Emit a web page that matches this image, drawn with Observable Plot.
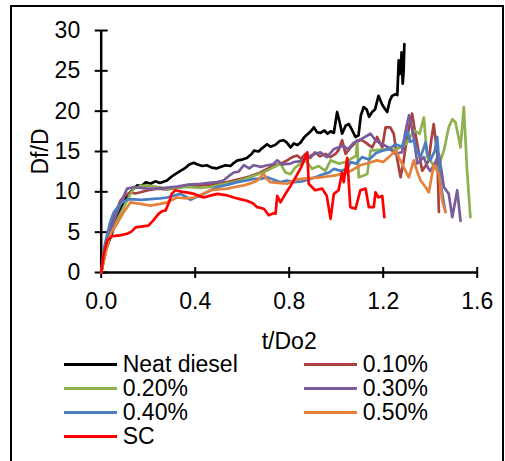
<!DOCTYPE html>
<html>
<head>
<meta charset="utf-8">
<script src="https://cdn.jsdelivr.net/npm/d3@7"></script>
<script src="https://cdn.jsdelivr.net/npm/@observablehq/plot@0.6"></script>
<style>
  html, body { margin: 0; padding: 0; background: #fff; }
  body { width: 505px; height: 461px; overflow: hidden; position: relative; font-family: "Liberation Sans", Arial, sans-serif; }
  #frame { position: absolute; left: 10px; top: 5px; width: 494px; height: 480px; border: 2px solid #000; box-sizing: border-box; }
  #chart { position: absolute; left: 0; top: 0; }
  .item { position: absolute; font-size: 23px; line-height: 24px; color: #000; white-space: nowrap; }
  .sw { position: absolute; width: 53px; height: 3px; }
</style>
</head>
<body>
<div id="frame"></div>
<div id="chart"></div>
<div id="legend"></div>
<script>
const series = ["Neat diesel", "0.10%", "0.20%", "0.30%", "0.40%", "0.50%", "SC"];
const colors = ["#000000", "#A9413F", "#8DB14D", "#7A5C9C", "#4B7DC2", "#E5813A", "#FF0000"];
const xTicks = [0, 0.4, 0.8, 1.2, 1.6];
const yTicks = [0, 5, 10, 15, 20, 25, 30];

const tNeat = [0, 0.02, 0.05, 0.082, 0.11, 0.135, 0.153, 0.17, 0.19, 0.21, 0.23, 0.25, 0.28, 0.30, 0.32, 0.337, 0.355, 0.375, 0.394, 0.41, 0.43, 0.45, 0.47, 0.49, 0.51, 0.53, 0.55, 0.565, 0.58, 0.60, 0.62, 0.64, 0.65, 0.67, 0.68, 0.706, 0.72, 0.74, 0.76, 0.777, 0.79, 0.806, 0.82, 0.835, 0.848, 0.865, 0.88, 0.895, 0.905, 0.918, 0.933, 0.95, 0.963, 0.976, 0.99, 1.004, 1.015, 1.025, 1.04, 1.054, 1.065, 1.082, 1.095, 1.105, 1.117, 1.13, 1.14, 1.153, 1.165, 1.18, 1.196, 1.207, 1.217, 1.228, 1.238, 1.252, 1.26, 1.266, 1.27, 1.274, 1.278, 1.283, 1.287, 1.29];
const dNeat = [0, 2.8, 5.2, 7.9, 9.4, 10.3, 10.8, 10.7, 11.2, 11.0, 11.3, 11.1, 11.4, 11.9, 12.3, 12.6, 12.9, 13.4, 13.6, 13.4, 13.2, 13.3, 13.0, 12.9, 13.1, 13.3, 13.2, 13.6, 13.9, 14.0, 14.2, 14.7, 15.1, 15.0, 15.3, 15.9, 15.6, 15.8, 16.3, 16.4, 16.1, 15.5, 16.0, 15.8, 16.1, 16.8, 17.2, 17.6, 18.0, 17.4, 17.3, 17.6, 17.2, 17.5, 17.3, 19.9, 18.6, 17.2, 18.2, 18.4, 17.8, 16.8, 17.0, 19.5, 20.5, 20.2, 19.3, 19.9, 20.2, 21.9, 20.8, 20.3, 19.9, 21.3, 21.9, 22.1, 22.0, 26.3, 24.6, 24.8, 27.3, 23.4, 25.0, 28.3];

const t010 = [0, 0.02, 0.054, 0.082, 0.1, 0.125, 0.145, 0.167, 0.2, 0.238, 0.28, 0.32, 0.351, 0.39, 0.423, 0.46, 0.507, 0.55, 0.593, 0.63, 0.678, 0.71, 0.734, 0.76, 0.791, 0.813, 0.834, 0.85, 0.869, 0.89, 0.91, 0.93, 0.954, 0.975, 0.997, 1.011, 1.025, 1.04, 1.061, 1.085, 1.103, 1.11, 1.13, 1.153, 1.174, 1.196, 1.21, 1.23, 1.245, 1.26, 1.274, 1.285, 1.295, 1.31, 1.323, 1.335, 1.345, 1.366, 1.38, 1.394, 1.405, 1.415, 1.43, 1.437];
const d010 = [0, 3.5, 6.85, 8.9, 9.5, 9.95, 9.8, 9.95, 10.2, 10.4, 10.3, 10.5, 10.65, 10.7, 10.8, 10.9, 11.0, 11.3, 11.6, 11.9, 12.4, 12.9, 13.3, 13.4, 13.9, 14.3, 14.5, 14.1, 14.7, 14.2, 14.9, 14.4, 14.7, 14.3, 14.7, 15.2, 16.4, 14.7, 15.5, 16.2, 16.4, 16.4, 16.0, 15.5, 16.8, 15.5, 18.0, 18.0, 17.2, 14.0, 11.8, 13.5, 15.5, 18.0, 19.7, 17.5, 15.9, 12.6, 13.2, 13.9, 16.5, 18.4, 14.7, 7.5];

const t020 = [0, 0.02, 0.04, 0.07, 0.096, 0.12, 0.139, 0.165, 0.196, 0.24, 0.28, 0.32, 0.366, 0.42, 0.465, 0.51, 0.564, 0.61, 0.649, 0.69, 0.72, 0.745, 0.763, 0.784, 0.806, 0.825, 0.848, 0.869, 0.898, 0.925, 0.954, 0.976, 1.011, 1.04, 1.07, 1.085, 1.089, 1.096, 1.115, 1.132, 1.146, 1.18, 1.217, 1.245, 1.274, 1.3, 1.33, 1.355, 1.373, 1.387, 1.41, 1.43, 1.458, 1.479, 1.494, 1.508, 1.529, 1.543, 1.557, 1.571];
const d020 = [0, 2.8, 4.8, 6.6, 8.1, 9.5, 10.4, 10.7, 10.8, 10.6, 10.4, 10.5, 10.6, 10.5, 10.6, 10.9, 11.2, 11.6, 12.0, 12.4, 12.85, 13.2, 13.5, 12.4, 12.2, 13.0, 13.5, 13.9, 12.85, 13.2, 12.6, 13.9, 13.5, 13.7, 14.2, 14.5, 16.4, 11.8, 12.0, 12.2, 15.1, 15.2, 15.3, 15.2, 15.5, 16.0, 17.6, 17.2, 19.2, 14.3, 13.5, 12.6, 15.1, 18.0, 19.0, 18.6, 15.5, 20.5, 12.6, 6.85];

const t030 = [0, 0.02, 0.054, 0.082, 0.11, 0.14, 0.167, 0.2, 0.224, 0.27, 0.323, 0.37, 0.423, 0.46, 0.494, 0.52, 0.545, 0.564, 0.585, 0.607, 0.63, 0.649, 0.68, 0.706, 0.73, 0.749, 0.77, 0.806, 0.82, 0.85, 0.877, 0.9, 0.933, 0.96, 0.99, 1.03, 1.05, 1.075, 1.11, 1.146, 1.17, 1.196, 1.224, 1.252, 1.28, 1.295, 1.31, 1.33, 1.345, 1.373, 1.39, 1.40, 1.42, 1.437, 1.458, 1.479, 1.494, 1.515, 1.529];
const d030 = [0, 3.2, 6.4, 8.5, 10.4, 10.6, 10.5, 10.4, 10.4, 10.5, 10.65, 10.9, 11.0, 11.1, 11.2, 11.4, 12.0, 12.4, 12.5, 13.3, 12.9, 13.3, 13.1, 13.3, 13.4, 13.9, 13.4, 13.5, 13.7, 13.8, 14.3, 14.6, 14.9, 14.3, 15.3, 15.7, 15.3, 16.1, 16.6, 17.2, 16.3, 15.9, 15.5, 14.7, 14.9, 17.5, 19.5, 16.8, 13.5, 14.3, 13.0, 12.6, 13.5, 14.7, 10.6, 9.75, 6.85, 10.2, 6.4];

const t040 = [0, 0.012, 0.026, 0.04, 0.054, 0.082, 0.1, 0.125, 0.17, 0.21, 0.25, 0.28, 0.337, 0.36, 0.38, 0.40, 0.423, 0.46, 0.494, 0.54, 0.579, 0.62, 0.649, 0.68, 0.706, 0.735, 0.763, 0.79, 0.82, 0.855, 0.89, 0.92, 0.947, 0.97, 0.99, 1.02, 1.047, 1.061, 1.085, 1.11, 1.14, 1.17, 1.196, 1.225, 1.252, 1.28, 1.302, 1.315, 1.33, 1.345, 1.359, 1.38, 1.39, 1.40, 1.42, 1.43, 1.444, 1.465];
const d040 = [0, 3.0, 4.8, 6.4, 7.5, 8.5, 8.9, 9.1, 9.0, 9.1, 9.2, 9.3, 9.75, 9.4, 9.0, 9.3, 9.55, 10.1, 10.6, 10.9, 11.2, 11.4, 11.6, 11.6, 11.8, 11.5, 11.2, 11.4, 11.2, 11.3, 11.6, 11.9, 12.2, 12.4, 12.85, 12.6, 12.85, 13.7, 13.5, 14.3, 14.0, 14.8, 15.1, 15.3, 15.9, 15.6, 17.6, 16.2, 16.4, 15.0, 14.3, 16.1, 14.5, 13.9, 15.1, 16.8, 11.0, 7.5];

const t050 = [0, 0.02, 0.04, 0.07, 0.096, 0.125, 0.145, 0.167, 0.21, 0.25, 0.28, 0.323, 0.36, 0.394, 0.43, 0.465, 0.5, 0.536, 0.57, 0.607, 0.64, 0.664, 0.692, 0.705, 0.72, 0.75, 0.791, 0.82, 0.848, 0.89, 0.933, 0.96, 0.99, 1.02, 1.047, 1.075, 1.103, 1.14, 1.174, 1.2, 1.224, 1.252, 1.28, 1.309, 1.33, 1.345, 1.359, 1.38, 1.394, 1.415, 1.437, 1.451, 1.465];
const d050 = [0, 2.6, 4.8, 6.2, 7.5, 8.7, 8.6, 8.5, 8.3, 8.5, 8.7, 9.3, 9.2, 9.3, 9.7, 10.2, 10.3, 10.4, 10.6, 10.8, 11.1, 11.4, 12.2, 11.6, 11.2, 11.1, 11.0, 11.4, 11.6, 11.7, 11.8, 11.9, 12.0, 12.2, 12.4, 12.8, 13.3, 13.6, 13.9, 13.7, 14.3, 15.1, 13.5, 11.8, 13.9, 12.5, 11.4, 10.6, 9.95, 13.3, 12.2, 8.9, 7.5];

const tSC = [0, 0.01, 0.026, 0.047, 0.08, 0.11, 0.13, 0.146, 0.2, 0.22, 0.245, 0.26, 0.274, 0.29, 0.30, 0.316, 0.345, 0.37, 0.394, 0.415, 0.437, 0.46, 0.494, 0.53, 0.564, 0.59, 0.62, 0.645, 0.664, 0.692, 0.703, 0.713, 0.734, 0.742, 0.749, 0.763, 0.784, 0.805, 0.827, 0.85, 0.869, 0.877, 0.883, 0.91, 0.94, 0.96, 0.976, 0.99, 1.01, 1.025, 1.032, 1.047, 1.06, 1.082, 1.103, 1.125, 1.139, 1.16, 1.167, 1.18, 1.196, 1.205];
const dSC = [0, 2.2, 4.0, 4.5, 4.6, 4.8, 5.1, 5.6, 5.8, 6.4, 7.3, 7.6, 7.7, 8.8, 9.75, 10.2, 10.0, 9.9, 9.75, 9.5, 9.3, 9.5, 9.75, 9.6, 9.3, 9.1, 8.9, 8.6, 8.1, 7.9, 7.5, 7.1, 7.35, 7.3, 9.5, 8.7, 9.75, 10.7, 11.8, 13.0, 14.3, 14.9, 11.0, 10.2, 10.4, 9.5, 6.65, 9.75, 10.2, 12.4, 11.2, 14.2, 8.1, 7.9, 10.2, 10.4, 8.1, 8.1, 9.95, 9.3, 9.5, 6.85];

const tArrays = [tNeat, t010, t020, t030, t040, t050, tSC];
const dArrays = [dNeat, d010, d020, d030, d040, d050, dSC];

const table = [];
series.forEach((s, i) => {
  const ts = tArrays[i], ds = dArrays[i];
  if (ts.length !== ds.length) console.error("length mismatch", s, ts.length, ds.length);
  ts.forEach((t, j) => table.push({series: s, t, D: ds[j]}));
});

const chart = Plot.plot({
  width: 505,
  height: 345,
  marginLeft: 100.7,
  marginRight: 28.3,
  marginTop: 30,
  marginBottom: 73,
  style: {fontFamily: "'Liberation Sans', Arial, sans-serif", fontSize: "23px", color: "#000", background: "transparent", overflow: "visible"},
  x: {domain: [0, 1.6]},
  y: {domain: [0, 30]},
  color: {domain: series, range: colors},
  marks: [
    Plot.axisY(yTicks, {tickSize: 0, tickPadding: 21, fontSize: 23, label: "Df/D", labelAnchor: "center", labelOffset: 70, labelArrow: "none"}),
    Plot.axisY(yTicks, {tickSize: 13, dx: 7, fill: "none", strokeWidth: 2}),
    Plot.axisX(xTicks, {tickSize: 0, tickPadding: 20, fontSize: 23, tickFormat: d3.format(".1f"), label: "t/Do2", labelAnchor: "center", labelOffset: 76, labelArrow: "none"}),
    Plot.axisX(xTicks, {tickSize: 11, dy: -5, fill: "none", strokeWidth: 2}),
    Plot.ruleX([0], {strokeWidth: 2.5}),
    Plot.ruleY([0], {strokeWidth: 2.5}),
    Plot.line(table, {x: "t", y: "D", z: "series", stroke: "series", strokeWidth: 2.7, strokeLinejoin: "round"})
  ]
});
document.getElementById("chart").appendChild(chart);

// legend (HTML, below the SVG)
const legend = document.getElementById("legend");
const colX = [64.3, 304.3];
series.forEach((s, i) => {
  const row = Math.floor(i / 2), col = i % 2;
  const top = 352 + row * 23.9;
  const sw = document.createElement("div");
  sw.className = "sw";
  sw.style.left = colX[col] + "px";
  sw.style.top = (top + 10.8) + "px";
  sw.style.background = colors[i];
  legend.appendChild(sw);
  const tx = document.createElement("div");
  tx.className = "item";
  tx.style.left = (colX[col] + 58.4) + "px";
  tx.style.top = top + "px";
  tx.textContent = s;
  legend.appendChild(tx);
});
</script>
</body>
</html>
